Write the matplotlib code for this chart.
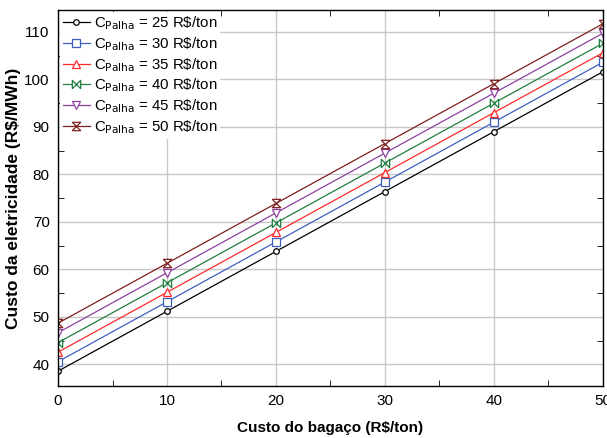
import numpy as np
import matplotlib.pyplot as plt
from matplotlib.path import Path
from matplotlib.ticker import MultipleLocator

plt.rcParams['font.family'] = ['Liberation Sans', 'DejaVu Sans']

# Data
bagaco = [0, 10, 20, 30, 40, 50]
palha = [25, 30, 35, 40, 45, 50]
custo_25 = [38.6, 51.2, 63.8, 76.4, 89.0, 101.6]
custo_30 = [40.6, 53.2, 65.8, 78.4, 91.0, 103.6]
custo_35 = [42.6, 55.2, 67.8, 80.4, 93.0, 105.6]
custo_40 = [44.6, 57.2, 69.8, 82.4, 95.0, 107.6]
custo_45 = [46.7, 59.3, 71.9, 84.5, 97.1, 109.7]
custo_50 = [48.7, 61.3, 73.9, 86.5, 99.1, 111.7]
series = [custo_25, custo_30, custo_35, custo_40, custo_45, custo_50]

# custom bowtie markers
bowtie_h = Path([(-1, -1), (1, 1), (1, -1), (-1, 1), (-1, -1)])
bowtie_v = Path([(-1, 1), (1, 1), (-1, -1), (1, -1), (-1, 1)])

colors = ['#000000', '#3f5fbf', '#ff2a2a', '#1f7f3f', '#8f3f9f', '#7f1f1f']
markers = ['o', 's', '^', bowtie_h, 'v', bowtie_v]
msizes = [4, 6, 6, 6, 6, 6]

fig = plt.figure(figsize=(6.07, 4.38), dpi=100)
ax = fig.add_axes([0.0956, 0.119, 0.8974, 0.858])

for p, y, c, m, ms in zip(palha, series, colors, markers, msizes):
    ax.plot(bagaco, y, color=c, lw=0.9, marker=m, ms=ms, mfc='white',
            mec=c, mew=0.9,
            label=r'C$_{\mathrm{Palha}}$ = %d R\$/ton' % p)

ax.set_xlim(0, 50)
ax.set_ylim(35.5, 114.6)
ax.xaxis.set_major_locator(MultipleLocator(10))
ax.xaxis.set_minor_locator(MultipleLocator(5))
ax.yaxis.set_major_locator(MultipleLocator(10))
ax.yaxis.set_minor_locator(MultipleLocator(5))
ax.tick_params(which='both', direction='in', top=True, right=True,
               labelsize=11, colors='black')
ax.tick_params(which='major', length=0, pad=6)
ax.tick_params(which='minor', length=4)
ax.grid(True, which='major', color='#c8c8c8', lw=1)
ax.set_axisbelow(True)
for s in ax.spines.values():
    s.set_linewidth(1)

ax.set_xlabel('Custo do bagaço (R$/ton)', fontsize=11, fontweight='bold',
              labelpad=9)
ax.set_ylabel('Custo da eletricidade (R$/MWh)', fontsize=12.5,
              fontweight='bold', labelpad=2)

leg = ax.legend(loc='upper left', fontsize=10.8, frameon=True, fancybox=False,
                edgecolor='none', framealpha=1, handlelength=1.8,
                handletextpad=0.3, labelspacing=0.2, borderaxespad=0.1,
                borderpad=0.2)

fig.savefig('out.png', dpi=100)
